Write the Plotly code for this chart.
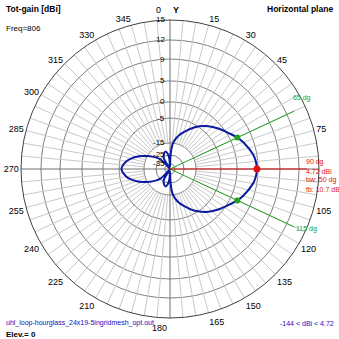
import numpy as np
import plotly.graph_objects as go

# Horizontal-plane total gain pattern, azimuth in degrees (0 = +Y, clockwise)
azimuth_deg = [0, 2, 4, 6, 10, 15, 20, 30, 40, 50, 60, 65, 70, 80, 85, 90,
               95, 100, 110, 115, 120, 130, 140, 150, 160, 165, 170, 174, 176, 178, 180,
               183, 188, 195, 203, 210, 218, 222, 225, 230, 235, 240, 245, 250, 255, 260,
               270, 280, 285, 290, 295, 300, 305, 310, 315, 318, 322, 330, 337, 345, 352,
               357, 360]
gain_dbi = [-38, -27, -20, -15.8, -13.4, -11.4, -9.8, -6.2, -3.4, -1.25, 0.7, 1.72, 2.6, 4.1, 4.55, 4.72,
            4.55, 4.1, 2.6, 1.72, 0.7, -1.25, -3.4, -6.2, -9.8, -11.4, -13.4, -15.8, -20, -27, -38,
            -30, -24, -21.7, -23.5, -27, -40, -34, -25.3, -21.9, -18.7, -15.1, -13.2, -11.2, -9.3, -7.7,
            -5.98, -7.7, -9.3, -11.2, -13.2, -15.1, -18.7, -21.9, -25.3, -34, -40, -27, -23.5, -21.7, -24,
            -30, -38]

# Labelled gain rings (dBi) and their relative radius on the log-style scale
ring_db = [-35, -25, -15, -5, 0, 5, 9, 12, 15]
ring_label = ["-35", "-25", "-15", "-5", "0", "5", "9", "12", "15"]
ring_radius = [0.034, 0.094, 0.175, 0.342, 0.450, 0.591, 0.738, 0.866, 1.0]

# Summary values
max_az = 90
max_gain = 4.72
edge_az = [65, 115]
edge_gain = 1.72
beamwidth = 50
front_back = 10.7
min_gain = -144
freq_mhz = 806
elevation = 0
file_name = "uhl_loop-hourglass_24x19-5ingridmesh_opt.out"

angle_ticks = list(range(0, 360, 15))
hidden_ticks = (0, 60, 90, 180, 195)
angle_text = ["" if a in hidden_ticks else str(a) for a in angle_ticks]

scale_db = [-41.0] + ring_db
scale_r = [0.0] + ring_radius


def to_r(db):
    return np.interp(db, scale_db, scale_r)


W = H = 339
CX, CY, R = 170, 169, 149
FONT = "Liberation Sans, Arial, sans-serif"

fig = go.Figure()

# light spokes every 5 degrees, from the -15 ring out to the rim
r0 = float(to_r(-15))
sr, st = [], []
for a in range(0, 360, 5):
    if a % 90 == 0:
        continue
    sr += [r0, 1, None]
    st += [a, a, None]
fig.add_trace(go.Scatterpolar(r=sr, theta=st, mode="lines",
                              line=dict(color="#c8c8c8", width=1),
                              hoverinfo="skip", showlegend=False))

# main axes through the centre
fig.add_trace(go.Scatterpolar(r=[1, 0, 1, None, 1, 0, 1], theta=[0, 0, 180, None, 270, 270, 90],
                              mode="lines", line=dict(color="#707070", width=1),
                              hoverinfo="skip", showlegend=False))

# beam-edge and maximum direction lines
green = "#22a022"
red = "#e01010"
for a in edge_az:
    fig.add_trace(go.Scatterpolar(r=[0, 0.92], theta=[a, a], mode="lines",
                                  line=dict(color=green, width=1),
                                  hoverinfo="skip", showlegend=False))
fig.add_trace(go.Scatterpolar(r=[0, 0.92], theta=[max_az, max_az], mode="lines",
                              line=dict(color=red, width=1),
                              hoverinfo="skip", showlegend=False))

# gain pattern
fig.add_trace(go.Scatterpolar(r=to_r(np.array(gain_dbi)), theta=azimuth_deg, mode="lines",
                              line=dict(color="#0a1aa0", width=2, shape="spline", smoothing=0.8),
                              showlegend=False))

# markers at the -3 dB points and at the maximum
fig.add_trace(go.Scatterpolar(r=to_r(np.array([edge_gain] * len(edge_az))), theta=edge_az,
                              mode="markers", marker=dict(color=green, size=6),
                              showlegend=False))
fig.add_trace(go.Scatterpolar(r=[float(to_r(max_gain))], theta=[max_az], mode="markers",
                              marker=dict(color=red, size=7), showlegend=False))

ann = []


def label(x, y, text, size=8, color="black", bold=False, anchor="left", family=FONT):
    ann.append(dict(x=x / W, y=1 - y / H, xref="paper", yref="paper",
                    text=f"<b>{text}</b>" if bold else text,
                    showarrow=False, xanchor=anchor, yanchor="middle",
                    font=dict(size=size, color=color, family=family)))


# ring values along the upper vertical axis
for lab, rr in zip(ring_label, ring_radius):
    label(CX - 3, CY - rr * R, lab, size=8, anchor="right")

label(4, 9, "Tot-gain [dBi]", size=8.5, bold=True)
label(4, 28, f"Freq={freq_mhz}", size=8)
label(335, 9, "Horizontal plane", size=8.5, bold=True, anchor="right")
label(158, 10, "0", size=9, anchor="center")
label(176, 10, "Y", size=9, bold=True, anchor="center")
label(159, 328, "180", size=9, anchor="center")

label(304, 162, f"{max_az} dg", size=7, color=red)
label(304, 171, f"{max_gain} dBi", size=7, color=red)
label(304, 180, f"bw: {beamwidth} dg", size=7, color=red)
label(304, 189, f"fb: {front_back} dB", size=7, color=red)
label(291, 98, f"{edge_az[0]} dg", size=7, color=green)
label(294, 229, f"{edge_az[1]} dg", size=7, color=green)

blue = "#1010c0"
label(4, 323, file_name, size=7, color=blue)
label(336, 323, f"{min_gain} < dBi < {max_gain}", size=7, color=blue, anchor="right")
label(4, 334, f"Elev.= {elevation}", size=8, bold=True)

fig.update_layout(
    width=W, height=H,
    margin=dict(l=0, r=0, t=0, b=0),
    paper_bgcolor="white",
    plot_bgcolor="white",
    showlegend=False,
    annotations=ann,
    polar=dict(
        domain=dict(x=[(CX - R) / W, (CX + R) / W], y=[(H - CY - R) / H, (H - CY + R) / H]),
        bgcolor="white",
        angularaxis=dict(rotation=90, direction="clockwise", tickmode="array",
                         tickvals=angle_ticks, ticktext=angle_text,
                         showgrid=False, showline=True, linecolor="#404040", linewidth=1,
                         ticks="", tickfont=dict(size=9, family=FONT, color="black")),
        radialaxis=dict(range=[0, 1], tickmode="array", tickvals=ring_radius,
                        showticklabels=False, angle=90,
                        showline=False, ticks="", gridcolor="#808080", gridwidth=1),
    ),
)

fig.write_html("out.html")
